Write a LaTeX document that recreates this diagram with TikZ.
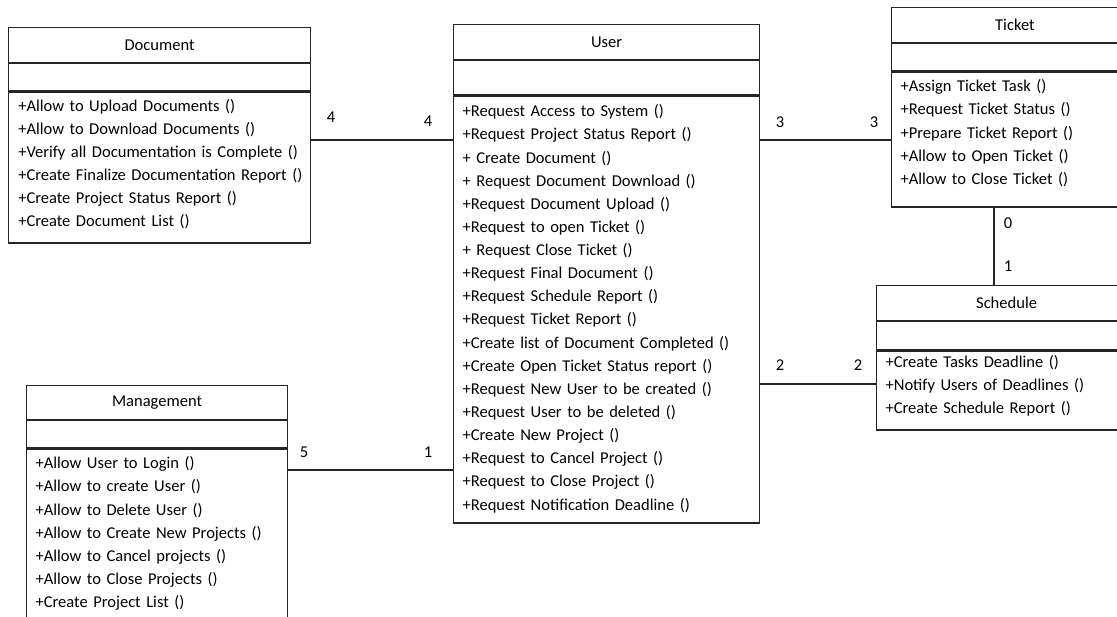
\documentclass[tikz,border=0pt]{standalone}
\usepackage{fontspec}
\setmainfont{Carlito}
\usetikzlibrary{positioning}

\begin{document}
\begin{tikzpicture}[
                x=0.75pt, y=-0.75pt,
                every node/.style={font=\fontsize{12.4}{17.35}\selectfont},
                classtitle/.style={rectangle, draw=black!85, line width=0.9pt, inner sep=0pt},
                classpart/.style={rectangle, draw=black!85, line width=0.9pt, inner sep=0pt},
                oplist/.style={align=left, inner sep=0pt, text width=260pt},
                multnode/.style={inner sep=0pt},
                link/.style={draw=black!85, line width=0.9pt},
            ]
            \useasboundingbox (0,0) rectangle (1117,617);
            \clip (0,0) rectangle (1117,617);

            % Nodes
            \node[classtitle, minimum width=226.5pt, minimum height=26.25pt, anchor=north west] (doctitle) at (8,27) {Document};
            \node[classpart, minimum width=226.5pt, minimum height=20.25pt]   (docattr)  [below=0pt of doctitle] {};
            \node[classpart, minimum width=226.5pt, minimum height=113.25pt]  (docops)   [below=0pt of docattr]  {};
            \node[oplist] (doclist) [below right=5.5pt and 7.5pt of docops.north west] {%
                +Allow to Upload Documents ()\\
                +Allow to Download Documents ()\\
                +Verify all Documentation is Complete ()\\
                +Create Finalize Documentation Report ()\\
                +Create Project Status Report ()\\
                +Create Document List ()};

            \node[classtitle, minimum width=229.5pt, minimum height=26.25pt, anchor=north west] (usertitle) at (453,24) {User};
            \node[classpart, minimum width=229.5pt, minimum height=25.5pt]    (userattr) [below=0pt of usertitle] {};
            \node[classpart, minimum width=229.5pt, minimum height=320.25pt]  (userops)  [below=0pt of userattr]  {};
            \node[oplist] (userlist) [below right=6.75pt and 7pt of userops.north west] {%
                +Request Access to System ()\\
                +Request Project Status Report ()\\
                + Create Document ()\\
                + Request Document Download ()\\
                +Request Document Upload ()\\
                +Request to open Ticket ()\\
                + Request Close Ticket ()\\
                +Request Final Document ()\\
                +Request Schedule Report ()\\
                +Request Ticket Report ()\\
                +Create list of Document Completed ()\\
                +Create Open Ticket Status report ()\\
                +Request New User to be created ()\\
                +Request User to be deleted ()\\
                +Create New Project ()\\
                +Request to Cancel Project ()\\
                +Request to Close Project ()\\
                +Request Notification Deadline ()};

            \node[classtitle, minimum width=185pt, minimum height=26.25pt, anchor=north west] (tickettitle) at (891,7) {Ticket};
            \node[classpart, minimum width=185pt, minimum height=20.25pt]     (ticketattr) [below=0pt of tickettitle] {};
            \node[classpart, minimum width=185pt, minimum height=101.25pt]    (ticketops)  [below=0pt of ticketattr]  {};
            \node[oplist] (ticketlist) [below right=6pt and 7pt of ticketops.north west] {%
                +Assign Ticket Task ()\\
                +Request Ticket Status ()\\
                +Prepare Ticket Report ()\\
                +Allow to Open Ticket ()\\
                +Allow to Close Ticket ()};

            \node[classtitle, minimum width=195pt, minimum height=26.25pt, anchor=north west] (schedtitle) at (876,285) {Schedule};
            \node[classpart, minimum width=195pt, minimum height=21pt]        (schedattr) [below=0pt of schedtitle] {};
            \node[classpart, minimum width=195pt, minimum height=59.25pt]     (schedops)  [below=0pt of schedattr]  {};
            \node[oplist] (schedlist) [below right=3.5pt and 7pt of schedops.north west] {%
                +Create Tasks Deadline ()\\
                +Notify Users of Deadlines ()\\
                +Create Schedule Report ()};

            \node[classtitle, minimum width=195.75pt, minimum height=25.5pt, anchor=north west] (mgmttitle) at (26,385) {Management};
            \node[classpart, minimum width=195.75pt, minimum height=20.25pt]  (mgmtattr) [below=0pt of mgmttitle] {};
            \node[classpart, minimum width=195.75pt, minimum height=138pt]    (mgmtops)  [below=0pt of mgmtattr]  {};
            \node[oplist] (mgmtlist) [below right=6pt and 7pt of mgmtops.north west] {%
                +Allow User to Login ()\\
                +Allow to create User ()\\
                +Allow to Delete User ()\\
                +Allow to Create New Projects ()\\
                +Allow to Cancel projects ()\\
                +Allow to Close Projects ()\\
                +Create Project List ()};

            % Multiplicities
            \node[multnode] (m_doc_user)    at (331,117) {4};
            \node[multnode] (m_user_doc)    at (428,121) {4};
            \node[multnode] (m_mgmt_user)   at (304,452) {5};
            \node[multnode] (m_user_mgmt)   at (428,452) {1};
            \node[multnode] (m_user_ticket) at (780,122) {3};
            \node[multnode] (m_ticket_user) at (874,122) {3};
            \node[multnode] (m_user_sched)  at (780,365) {2};
            \node[multnode] (m_sched_user)  at (858,365) {2};
            \node[multnode] (m_ticket_sched) at (1008,223) {0};
            \node[multnode] (m_sched_ticket) at (1008,266) {1};

            %Lines
            \draw[link] (docops.east |- 0,140) -- (userops.west |- 0,140);
            \draw[link] (mgmtops.east |- 0,470) -- (userops.west |- 0,470);
            \draw[link] (userops.east |- 0,140) -- (ticketops.west |- 0,140);
            \draw[link] (userops.east |- 0,384) -- (schedops.west |- 0,384);
            \draw[link] (ticketops.south -| 994,0) -- (schedtitle.north -| 994,0);
        \end{tikzpicture}
\end{document}
